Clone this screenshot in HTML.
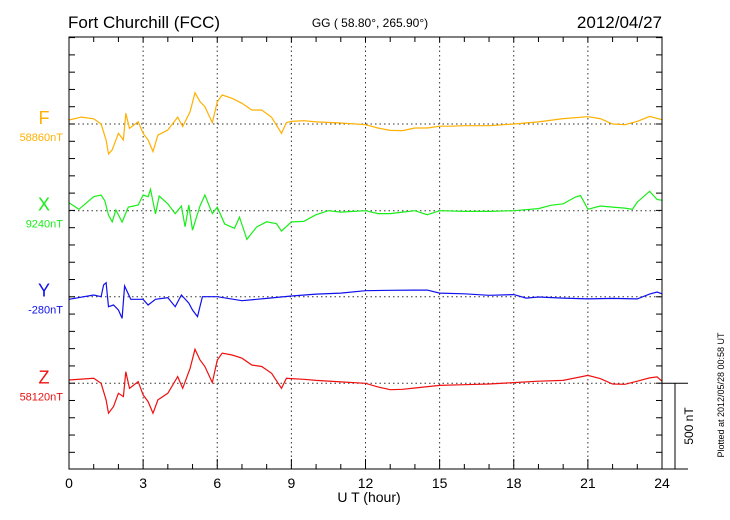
<!DOCTYPE html>
<html><head><meta charset="utf-8">
<style>
html,body{margin:0;padding:0;background:#fff;}
svg{display:block;font-family:"Liberation Sans",sans-serif;}
</style></head>
<body>
<svg id="chart" width="730" height="520" viewBox="0 0 730 520" xmlns="http://www.w3.org/2000/svg">
<text x="68" y="28" font-size="17">Fort Churchill (FCC)</text>
<text x="370" y="27" font-size="12" text-anchor="middle">GG ( 58.80°, 265.90°)</text>
<text x="662" y="28" font-size="17" text-anchor="end">2012/04/27</text>
<text x="369" y="502" font-size="14" text-anchor="middle">U T (hour)</text>
<text transform="translate(724,395) rotate(-90)" font-size="9" text-anchor="middle">Plotted at 2012/05/28 00:58 UT</text>
<text transform="translate(693,426) rotate(-90)" font-size="12" text-anchor="middle">500 nT</text>
<g id="grid"></g>
<g id="series"></g>
<g id="axes"></g>
</svg>
<script>
// ---- data (hours, nT deviation from baseline) ----
const fHours = [0,0.5,1,1.3,1.5,1.6,1.75,2,2.2,2.3,2.45,2.8,3,3.2,3.4,3.6,4,4.4,4.6,4.9,5.1,5.3,5.5,5.8,6,6.2,6.6,7,7.4,7.8,8.2,8.6,8.8,9,9.5,10,11,12,12.5,13,13.5,14,14.5,15,15.5,16,17,18,19,20,21,21.5,22,22.5,23,23.5,24];
const fValues = [23,40,30,0,-93,-173,-150,-54,-92,62,-25,13,-54,-92,-160,-64,-35,40,-15,71,181,129,100,8,129,168,149,120,81,81,39,-54,8,15,19,12,6,-4,-23,-37,-38,-23,-23,-13,-13,-10,-10,0,12,31,42,31,0,-4,15,44,25];
const xHours = [0,0.4,1,1.3,1.45,1.6,1.75,1.9,2.15,2.4,2.8,3,3.2,3.3,3.5,3.65,4,4.3,4.55,4.7,4.85,5,5.3,5.5,5.8,6,6.3,6.7,6.9,7.2,7.6,8,8.4,8.6,9,9.5,10,10.5,11,11.5,12,12.5,13,13.5,14,14.5,15,16,17,18,19,19.5,20,20.5,20.7,21,21.5,22,22.5,22.8,23,23.5,23.8,24];
const xValues = [46,8,81,91,58,-25,-64,4,-66,20,33,91,81,124,-19,85,40,-17,27,-93,33,-112,27,91,-17,20,-77,-102,-37,-166,-93,-64,-75,-118,-65,-62,-23,0,-8,-4,0,-17,-17,-8,0,-23,0,-4,-4,0,12,31,40,79,88,8,27,21,15,8,50,112,65,60];
const yHours = [0,1,1.3,1.4,1.5,1.6,1.8,2,2.15,2.25,2.5,3,3.2,3.5,4,4.3,4.55,4.85,5,5.2,5.4,6,7,8,9,10,11,12,13,14,14.5,15,16,17,18,18.5,19,20,21,22,23,23.5,23.8,24];
const yValues = [-15,10,0,68,81,-58,-48,-77,-125,62,-15,-15,-48,-15,-5,-58,10,-37,-77,-115,0,0,-23,-10,4,15,21,35,37,38,38,21,17,8,12,-8,-2,-8,-13,-10,-13,15,27,17];
const zHours = [0,1,1.3,1.5,1.6,1.8,2,2.2,2.3,2.45,2.8,3,3.2,3.4,3.6,4,4.4,4.6,4.9,5.1,5.3,5.5,5.8,6,6.2,6.6,7,7.4,7.8,8.2,8.6,8.8,9,9.5,10,11,12,12.5,13,13.5,14,15,16,17,18,19,20,21,21.5,22,22.5,23,23.5,23.8,24];
const zValues = [19,29,0,-96,-173,-135,-58,-77,67,-29,10,-67,-106,-173,-96,-58,39,-29,87,197,135,97,4,135,174,164,145,106,97,58,-29,29,27,23,17,8,0,-21,-37,-35,-27,-12,-8,-4,4,12,17,46,27,-4,-6,12,31,37,12];
const seriesNames = ["F","X","Y","Z"];
const seriesBaseLabels = ["58860nT","9240nT","-280nT","58120nT"];
const xTickLabels = ["0","3","6","9","12","15","18","21","24"];

// ---- layout ----
const L=69,R=662,T=37,B=469;
const pxPerNT = 86.4/500;
const baseY = [124,210.7,296.7,383.3];
const colors = ["#FFB000","#18EE18","#1010EE","#EE1010"];
const xs = h => L + (R-L)*h/24;
const NS="http://www.w3.org/2000/svg";
function mk(tag, attrs, parent){const e=document.createElementNS(NS,tag);for(const k in attrs)e.setAttribute(k,attrs[k]);parent.appendChild(e);return e;}
const grid=document.getElementById('grid'), ser=document.getElementById('series'), axes=document.getElementById('axes');

for(let h=3;h<24;h+=3){
  const g=mk('line',{x1:xs(h),x2:xs(h),y1:T,y2:B,stroke:'#333','stroke-width':1,'stroke-dasharray':'1.5,3'},grid);
  
  
}
const allH=[fHours,xHours,yHours,zHours], allV=[fValues,xValues,yValues,zValues];
for(let i=0;i<4;i++){
  const bl=mk('line',{x1:L,x2:R,y1:baseY[i],y2:baseY[i],stroke:'#333','stroke-width':1,'stroke-dasharray':'1.5,3'},grid);
  
  
  const pts=allH[i].map((h,j)=>xs(h).toFixed(1)+','+(baseY[i]-allV[i][j]*pxPerNT).toFixed(1)).join(' ');
  const p=mk('polyline',{points:pts,fill:'none',stroke:colors[i],'stroke-width':1.2},ser);
  
  
  const t=mk('text',{x:44,y:baseY[i]-0,'font-size':18,fill:colors[i],'text-anchor':'middle'},axes);
  t.textContent=seriesNames[i];
  
  
  const t2=mk('text',{x:63,y:baseY[i]+17,'font-size':11,fill:colors[i],'text-anchor':'end'},axes);
  t2.textContent=seriesBaseLabels[i];
  
  
}
const fr=mk('rect',{x:L,y:T,width:R-L,height:B-T,fill:'none',stroke:'#000','stroke-width':1},axes);


const step=100*pxPerNT;
for(let y=baseY[0]-Math.floor((baseY[0]-T)/step)*step;y<=B+0.5;y+=step){
  const t1=mk('line',{x1:L,x2:L+6,y1:y,y2:y,stroke:'#000'},axes);
  
  
  const t2=mk('line',{x1:R-6,x2:R,y1:y,y2:y,stroke:'#000'},axes);
  
  
}
for(let h=0;h<=24;h++){
  const len=h%3===0?10:5;
  const t1=mk('line',{x1:xs(h),x2:xs(h),y1:B,y2:B-len,stroke:'#000'},axes);
  
  
  const t2=mk('line',{x1:xs(h),x2:xs(h),y1:T,y2:T+5,stroke:'#000'},axes);
  
  
}
xTickLabels.forEach((lab,i)=>{
  const t=mk('text',{x:xs(i*3),y:488,'font-size':14,'text-anchor':'middle'},axes);
  t.textContent=lab;
  
  
});
const sb=mk('path',{d:`M${R} ${baseY[3]}H688M675 ${baseY[3]}V${B}M${R} ${B}H688`,stroke:'#000',fill:'none'},axes);


</script>
</body></html>
